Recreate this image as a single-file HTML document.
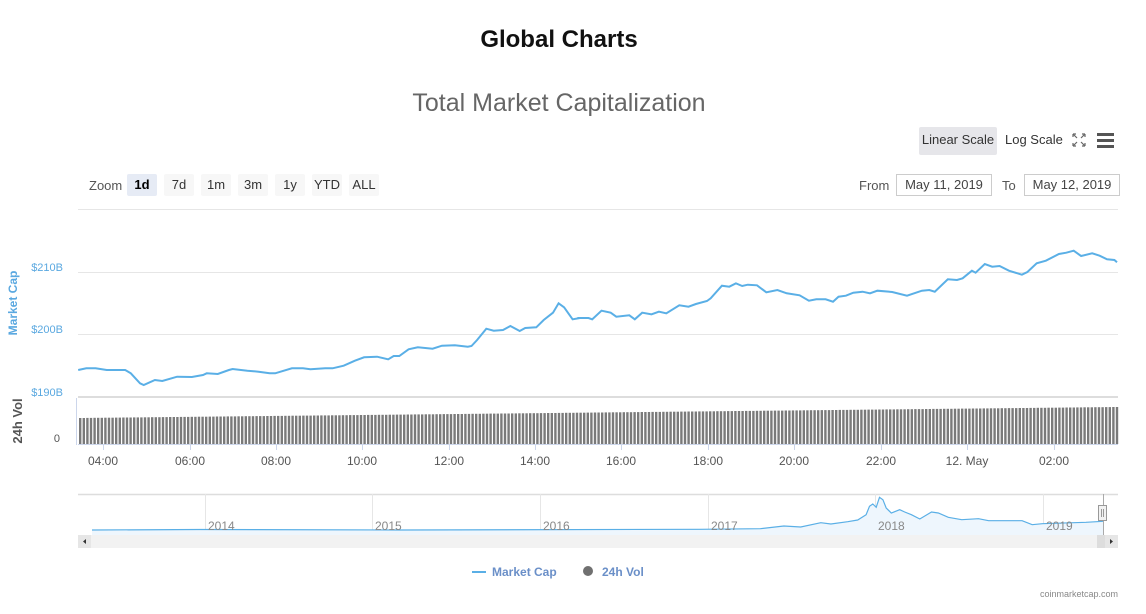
<!DOCTYPE html>
<html><head><meta charset="utf-8"><style>
body{margin:0;background:#fff;width:1146px;height:614px;overflow:hidden;font-family:"Liberation Sans",sans-serif;position:relative}
.a{position:absolute;white-space:nowrap}
.btn{position:absolute;top:174px;height:22px;line-height:22px;font-size:13px;color:#333;background:#f7f7f7;text-align:center;border-radius:2px}
.inp{position:absolute;top:174px;height:20px;line-height:20px;border:1px solid #ccc;font-size:13px;color:#444;text-align:center}
</style></head><body>
<div class="a" style="left:0;width:1118px;text-align:center;top:26px;font-size:24px;font-weight:bold;color:#111">Global Charts</div>
<div class="a" style="left:0;width:1118px;text-align:center;top:89px;font-size:25px;color:#666">Total Market Capitalization</div>
<div class="a" style="left:919px;top:127px;width:78px;height:28px;line-height:26px;background:#e6e6ea;border-radius:2px;font-size:13px;color:#333;text-align:center">Linear Scale</div>
<div class="a" style="left:1005px;top:127px;line-height:26px;font-size:13px;color:#333">Log Scale</div>
<svg class="a" style="left:1070px;top:130px" width="44" height="20">
<g stroke="#666" stroke-width="1.2" fill="none"><path d="M3 4l4 4M3 4h3M3 4v3M15 4l-4 4M15 4h-3M15 4v3M3 16l4-4M3 16h3M3 16v-3M15 16l-4-4M15 16h-3M15 16v-3"/></g>
<g fill="#555"><rect x="27" y="3" width="18" height="3"/><rect x="27" y="9" width="18" height="3"/><rect x="27" y="15" width="18" height="3"/></g></svg>
<div class="a" style="left:89px;top:178px;font-size:13px;color:#555">Zoom</div>
<div class="btn" style="left:127px;width:30px;background:#e6ebf5;font-weight:bold;color:#000">1d</div>
<div class="btn" style="left:164px;width:30px">7d</div>
<div class="btn" style="left:201px;width:30px">1m</div>
<div class="btn" style="left:238px;width:30px">3m</div>
<div class="btn" style="left:275px;width:30px">1y</div>
<div class="btn" style="left:312px;width:30px">YTD</div>
<div class="btn" style="left:349px;width:30px">ALL</div>
<div class="a" style="left:859px;top:178px;font-size:13px;color:#555">From</div>
<div class="inp" style="left:896px;width:94px">May 11, 2019</div>
<div class="a" style="left:1002px;top:178px;font-size:13px;color:#555">To</div>
<div class="inp" style="left:1024px;width:94px">May 12, 2019</div>
<svg class="a" style="left:0;top:0" width="1146" height="614" id="s">
<g stroke="#e6e6e6" stroke-width="1"><line x1="78" x2="1118" y1="209.5" y2="209.5"/><line x1="78" x2="1118" y1="272.5" y2="272.5"/><line x1="78" x2="1118" y1="334.5" y2="334.5"/></g>
<line x1="78" x2="1118" y1="397" y2="397" stroke="#ddd" stroke-width="2"/>
<line x1="76.5" x2="76.5" y1="398" y2="445" stroke="#ccd6eb"/>
<line x1="78" x2="1118" y1="444.5" y2="444.5" stroke="#ccd6eb"/>
<g font-size="11" fill="#5aa8e0" text-anchor="end"><text x="63" y="271">$210B</text><text x="63" y="333">$200B</text><text x="63" y="396">$190B</text></g>
<text x="60" y="442" font-size="11" fill="#555" text-anchor="end">0</text>
<text transform="translate(17,303) rotate(-90)" font-size="12" font-weight="bold" fill="#5aa8e0" text-anchor="middle">Market Cap</text>
<text transform="translate(22,421) rotate(-90)" font-size="13" font-weight="bold" fill="#555" text-anchor="middle">24h Vol</text>
<g id="bars" fill="#7a7a7a"></g>
<polyline id="ln" fill="none" stroke="#5aafe6" stroke-width="2" points=""/>
<g id="tk" font-size="12" fill="#555" text-anchor="middle"></g>
<!-- navigator -->
<line x1="78" x2="1118" y1="494.5" y2="494.5" stroke="#ddd" stroke-width="1.5"/>
<g stroke="#e6e6e6"><line x1="205.5" x2="205.5" y1="494" y2="535"/><line x1="372.5" x2="372.5" y1="494" y2="535"/><line x1="540.5" x2="540.5" y1="494" y2="535"/><line x1="708.5" x2="708.5" y1="494" y2="535"/><line x1="875.5" x2="875.5" y1="494" y2="535"/><line x1="1043.5" x2="1043.5" y1="494" y2="535"/></g>
<path id="na" fill="#eef6fd" stroke="none" d=""/>
<polyline id="nl" fill="none" stroke="#5aafe6" stroke-width="1.2" points=""/>
<g font-size="12" fill="#888"><text x="208" y="530">2014</text><text x="375" y="530">2015</text><text x="543" y="530">2016</text><text x="711" y="530">2017</text><text x="878" y="530">2018</text><text x="1046" y="530">2019</text></g>
<line x1="1103.5" x2="1103.5" y1="494" y2="535" stroke="#aaa"/>
<rect x="1098.5" y="505.5" width="8" height="15" fill="#f2f2f2" stroke="#999"/>
<line x1="1101.5" x2="1101.5" y1="509" y2="517" stroke="#999"/><line x1="1103.5" x2="1103.5" y1="509" y2="517" stroke="#999"/>
<rect x="78" y="535" width="1040" height="13" fill="#f2f2f2"/>
<rect x="78" y="535" width="13" height="13" fill="#e6e6e6"/><rect x="1097" y="535" width="8" height="13" fill="#ddd"/>
<rect x="1105" y="535" width="13" height="13" fill="#e6e6e6"/>
<path d="M86 539 L83 541.5 L86 544Z M1110 539 L1113 541.5 L1110 544Z" fill="#333"/>
<!-- legend -->
<line x1="472" x2="486" y1="572" y2="572" stroke="#5aafe6" stroke-width="2"/>
<text x="492" y="576" font-size="12" font-weight="bold" fill="#6a8fc8">Market Cap</text>
<circle cx="588" cy="571" r="5" fill="#707070"/>
<text x="602" y="576" font-size="12" font-weight="bold" fill="#6a8fc8">24h Vol</text>
<text x="1118" y="597" font-size="9" fill="#888" text-anchor="end">coinmarketcap.com</text>
</svg>
<script>
var z1=[[213,750],[235,745],[260,745],[290,750],[340,750],[355,760],[380,790],[390,795],[420,780],[440,783],[480,770],[520,771],[550,765],[560,760],[590,762],[620,750],[630,747],[670,752],[700,755],[730,760],[745,760],[790,745],[820,745],[840,748],[880,745],[900,745],[930,737],[960,722],[985,712],[1020,710],[1050,718],[1065,708],[1080,708],[1105,688],[1130,682],[1170,686],[1195,677],[1230,676],[1265,680],[1275,678],[1290,660],[1315,626],[1335,632],[1360,630],[1380,618],[1405,633],[1420,624],[1450,622],[1470,600],[1495,578],[1510,550],[1525,562],[1548,598],[1568,594]];
var z2=[[20,594],[50,594],[60,598],[85,572],[110,578],[125,590],[160,586],[175,598],[195,578],[220,583],[240,575],[260,580],[295,556],[320,560],[340,552],[370,543],[380,535],[410,497],[430,500],[448,490],[465,498],[480,494],[505,496],[530,517],[560,510],[585,520],[620,526],[645,542],[665,538],[690,538],[710,545],[725,530],[745,527],[765,518],[790,515],[810,520],[830,512],[870,516],[910,527],[950,512],[970,510],[985,515],[1020,478],[1045,480],[1060,475],[1085,452],[1095,458],[1120,432],[1140,440],[1160,438],[1185,452],[1220,464],[1235,456],[1260,430],[1285,422],[1320,402],[1340,398],[1360,392],[1380,408],[1410,400],[1430,407],[1450,418],[1470,420],[1490,427]];
var p=[];
z1.forEach(function(a){p.push(Math.max(78,103+(a[0]-280)/2.7).toFixed(1)+','+(a[1]/3+120).toFixed(1));});
z2.forEach(function(a){p.push(Math.min(1117,570+a[0]/2.7).toFixed(1)+','+(a[1]/3+120).toFixed(1));});
document.getElementById('ln').setAttribute('points',p.join(' '));
var b='';for(var x=79;x<1116;x+=3.6){var t=418-(x-79)/1037*11;b+='<rect x="'+x.toFixed(1)+'" y="'+t.toFixed(1)+'" width="2.4" height="'+(444-t).toFixed(1)+'"/>';}
document.getElementById('bars').innerHTML=b;
var L=['04:00','06:00','08:00','10:00','12:00','14:00','16:00','18:00','20:00','22:00','12. May','02:00'],X=[103,190,276,362,449,535,621,708,794,881,967,1054],s='';
L.forEach(function(l,i){s+='<line x1="'+(X[i]+.5)+'" x2="'+(X[i]+.5)+'" y1="445" y2="450" stroke="#ccd6eb"/><text x="'+X[i]+'" y="465">'+l+'</text>';});
document.getElementById('tk').innerHTML=s;
var n="92,530 200,529.5 400,530 700,529.3 760.4,528.7 783.9,526 800.7,527 820.8,522.7 830.9,524 847.7,521.7 857.7,520 866.1,514.7 869.5,506.3 872.8,504 876.2,507.3 879.5,497.3 882.9,499.7 886.2,508 891.3,513 899.7,509.7 904.7,512 911.4,514.7 919.8,519 931.5,512 938.3,513 948.3,517.3 961.7,519.7 978.5,518.7 988.6,520.7 1022.1,520.7 1032.2,524.7 1042.3,523.7 1085.9,522.3 1103,521.3";
document.getElementById('nl').setAttribute('points',n);
document.getElementById('na').setAttribute('d','M'+n.split(' ').join(' L')+' L1103 535 L92 535Z');
</script>
</body></html>
